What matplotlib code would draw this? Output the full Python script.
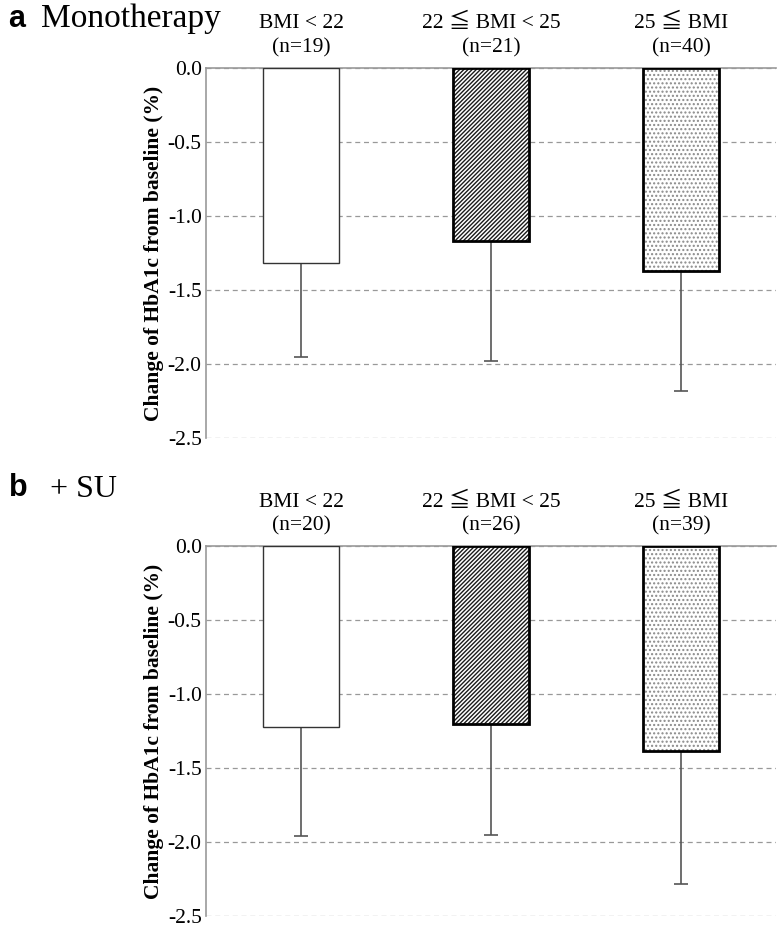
import matplotlib
matplotlib.use("Agg")
import matplotlib.pyplot as plt
import numpy as np

plt.rcParams['font.family'] = ['Liberation Serif', 'Noto Sans CJK JP', 'DejaVu Serif']
plt.rcParams['hatch.linewidth'] = 1.0

groups = ["BMI < 22", "22 \u2266 BMI < 25", "25 \u2266 BMI"]

mono_n = [19, 21, 40]
mono_mean = [-1.32, -1.17, -1.37]
mono_sd = [0.63, 0.81, 0.81]

su_n = [20, 26, 39]
su_mean = [-1.22, -1.20, -1.38]
su_sd = [0.74, 0.75, 0.90]

yticks = [0.0, -0.5, -1.0, -1.5, -2.0, -2.5]

# bar looks: (face, hatch, hatch colour, edge colour, edge width)
looks = [("white", None, None, "#333333", 1.0),
         ("white", "////////", "#1a1a1a", "black", 2.0),
         ("white", "....", "#8a8a8a", "black", 2.0)]


def panel(ax, means, sds, ns):
    x = np.arange(len(groups))
    for i in range(len(groups)):
        face, hatch, hcol, ecol, lw = looks[i]
        if hatch:
            ax.bar(x[i], means[i], width=0.4, color=face, hatch=hatch,
                   edgecolor=hcol, linewidth=0, zorder=3)
            ax.bar(x[i], means[i], width=0.4, fill=False,
                   edgecolor=ecol, linewidth=lw, zorder=4)
        else:
            ax.bar(x[i], means[i], width=0.4, color=face,
                   edgecolor=ecol, linewidth=lw, zorder=4)
    ax.errorbar(x, means, yerr=[sds, np.zeros(len(sds))], fmt="none",
                ecolor="#555555", elinewidth=1.2, capsize=5, capthick=1.2,
                zorder=2)
    ax.set_xlim(-0.5, 2.5)
    ax.set_ylim(-2.5, 0)
    ax.set_yticks(yticks)
    ax.set_yticklabels(["%.1f" % v for v in yticks], fontsize=15.5)
    ax.tick_params(axis="y", length=0, pad=3)
    ax.xaxis.tick_top()
    ax.set_xticks(x)
    ax.set_xticklabels([g + "\n(n=%d)" % n for g, n in zip(groups, ns)],
                       fontsize=15.5, linespacing=1.3)
    ax.tick_params(axis="x", length=0, pad=8)
    ax.yaxis.grid(True, linestyle=(0, (4, 3)), color="#999999", linewidth=0.9)
    ax.set_axisbelow(True)
    for s in ["right", "bottom"]:
        ax.spines[s].set_visible(False)
    ax.spines["top"].set_color("#999999")
    ax.spines["left"].set_color("#999999")
    ax.spines["top"].set_linewidth(1.2)
    ax.spines["left"].set_linewidth(1.2)
    ax.set_ylabel("Change of HbA1c from baseline (%)", fontsize=15.5,
                  fontweight="bold", labelpad=3)


fig = plt.figure(figsize=(7.77, 9.27), dpi=100)
ax1 = fig.add_axes([0.265, 0.5275, 0.734, 0.399])
ax2 = fig.add_axes([0.265, 0.0115, 0.734, 0.399])

panel(ax1, mono_mean, mono_sd, mono_n)
panel(ax2, su_mean, su_sd, su_n)

fig.text(0.010, 0.979, "a", fontsize=22, fontweight="bold",
         family="Liberation Sans", va="center")
fig.text(0.053, 0.980, "Monotherapy", fontsize=24, va="center")
fig.text(0.012, 0.474, "b", fontsize=22, fontweight="bold",
         family="Liberation Sans", va="center")
fig.text(0.064, 0.472, "+ SU", fontsize=23, va="center")

plt.savefig("out.png", dpi=100)
